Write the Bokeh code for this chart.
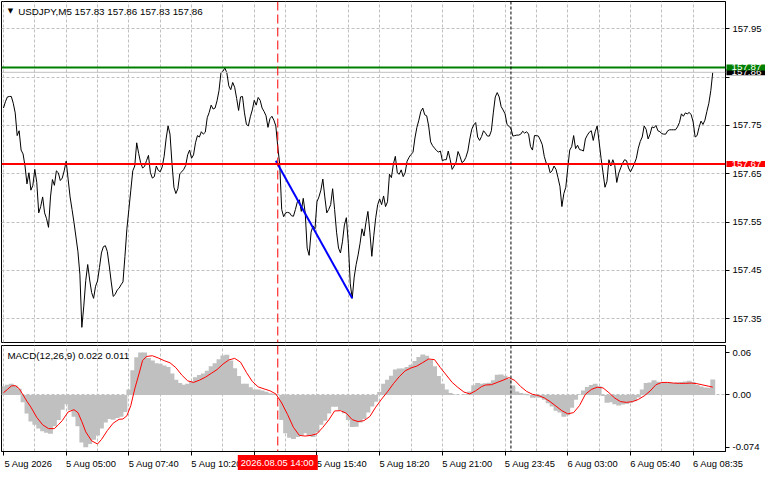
from bokeh.plotting import figure
from bokeh.layouts import column
from bokeh.models import Range1d, FixedTicker, Span, Label, LinearAxis
from bokeh.embed import file_html
from bokeh.resources import INLINE

# ---------------- data ----------------
symbol = "USDJPY,M5"
ohlc = [157.83, 157.86, 157.83, 157.86]

close = [
    157.786, 157.799, 157.809, 157.810, 157.810, 157.796, 157.776, 157.729, 157.739, 157.699,
    157.691, 157.666, 157.629, 157.652, 157.616, 157.626, 157.659, 157.632, 157.569, 157.582,
    157.602, 157.569, 157.557, 157.539, 157.602, 157.638, 157.626, 157.656, 157.652, 157.636,
    157.641, 157.656, 157.676, 157.639, 157.602, 157.576, 157.549, 157.519, 157.489, 157.442,
    157.332, 157.376, 157.429, 157.462, 157.430, 157.404, 157.392, 157.417, 157.428, 157.456,
    157.486, 157.499, 157.501, 157.489, 157.459, 157.426, 157.396, 157.400, 157.409, 157.413,
    157.420, 157.426, 157.479, 157.536, 157.576, 157.616, 157.656, 157.666, 157.714, 157.692,
    157.673, 157.662, 157.665, 157.677, 157.688, 157.652, 157.641, 157.644, 157.666, 157.657,
    157.654, 157.664, 157.686, 157.722, 157.749, 157.732, 157.672, 157.622, 157.609, 157.619,
    157.650, 157.654, 157.659, 157.667, 157.689, 157.699, 157.682, 157.689, 157.714, 157.729,
    157.726, 157.737, 157.732, 157.736, 157.766, 157.777, 157.792, 157.784, 157.786, 157.801,
    157.822, 157.859, 157.862, 157.869, 157.859, 157.832, 157.824, 157.839, 157.829, 157.806,
    157.781, 157.809, 157.810, 157.776, 157.752, 157.749, 157.768, 157.782, 157.802, 157.792,
    157.808, 157.802, 157.786, 157.779, 157.770, 157.746, 157.764, 157.769, 157.761, 157.749,
    157.706, 157.669, 157.576, 157.561, 157.569, 157.570, 157.569, 157.563, 157.562, 157.576,
    157.592, 157.596, 157.572, 157.599, 157.569, 157.496, 157.481, 157.529, 157.542, 157.536,
    157.592, 157.602, 157.616, 157.639, 157.602, 157.569, 157.576, 157.586, 157.619, 157.576,
    157.529, 157.496, 157.486, 157.509, 157.544, 157.559, 157.506, 157.422, 157.392, 157.436,
    157.462, 157.482, 157.506, 157.536, 157.521, 157.549, 157.572, 157.529, 157.479, 157.522,
    157.559, 157.586, 157.598, 157.586, 157.604, 157.582, 157.592, 157.649, 157.642, 157.670,
    157.686, 157.652, 157.649, 157.658, 157.644, 157.652, 157.676, 157.684, 157.690, 157.694,
    157.724, 157.746, 157.761, 157.779, 157.786, 157.772, 157.770, 157.749, 157.716, 157.708,
    157.703, 157.698, 157.695, 157.697, 157.677, 157.679, 157.679, 157.697, 157.679, 157.659,
    157.666, 157.674, 157.696, 157.686, 157.673, 157.676, 157.684, 157.697, 157.722, 157.742,
    157.751, 157.756, 157.726, 157.719, 157.727, 157.739, 157.734, 157.728, 157.728, 157.739,
    157.776, 157.809, 157.818, 157.809, 157.789, 157.782, 157.774, 157.752, 157.748, 157.744,
    157.728, 157.729, 157.730, 157.730, 157.732, 157.738, 157.734, 157.737, 157.732, 157.706,
    157.699, 157.729, 157.729, 157.728, 157.720, 157.710, 157.686, 157.672, 157.669, 157.652,
    157.656, 157.666, 157.659, 157.642, 157.624, 157.582, 157.609, 157.622, 157.662, 157.699,
    157.706, 157.729, 157.702, 157.709, 157.700, 157.699, 157.697, 157.722, 157.730, 157.736,
    157.739, 157.719, 157.737, 157.749, 157.716, 157.682, 157.652, 157.622, 157.634, 157.679,
    157.666, 157.679, 157.667, 157.632, 157.651, 157.662, 157.672, 157.679, 157.677, 157.662,
    157.654, 157.662, 157.671, 157.682, 157.703, 157.717, 157.726, 157.749, 157.742, 157.722,
    157.732, 157.747, 157.745, 157.750, 157.739, 157.737, 157.733, 157.732, 157.732, 157.739,
    157.741, 157.741, 157.741, 157.741, 157.747, 157.756, 157.774, 157.769, 157.776, 157.774,
    157.777, 157.772, 157.757, 157.726, 157.729, 157.746, 157.759, 157.752, 157.761, 157.779,
    157.796, 157.822, 157.860,
]
bars = list(range(len(close)))

macd_name = "MACD(12,26,9)"
macd_last = 0.022
signal_last = 0.011

hist_bars = list(range(0, 363, 2))
macd_hist = [
    0.0123, 0.0145, 0.0159, 0.0132, 0.0086, -0.0105, -0.0264, -0.0377, -0.0423, -0.0477,
    -0.0514, -0.0536, -0.0550, -0.0445, -0.0355, -0.0209, -0.0132, -0.0218, -0.0309, -0.0445,
    -0.0673, -0.0741, -0.0695, -0.0636, -0.0573, -0.0477, -0.0391, -0.0341, -0.0350, -0.0327,
    -0.0309, -0.0241, 0.0077, 0.0350, 0.0532, 0.0600, 0.0600, 0.0523, 0.0486, 0.0450,
    0.0441, 0.0418, 0.0395, 0.0305, 0.0214, 0.0168, 0.0145, 0.0159, 0.0195, 0.0250,
    0.0282, 0.0305, 0.0341, 0.0405, 0.0450, 0.0505, 0.0559, 0.0568, 0.0486, 0.0377,
    0.0268, 0.0159, 0.0159, 0.0109, 0.0077, 0.0077, 0.0064, 0.0045, 0.0023, 0.0018,
    -0.0005, -0.0355, -0.0541, -0.0605, -0.0623, -0.0595, -0.0568, -0.0541, -0.0582, -0.0595,
    -0.0532, -0.0423, -0.0364, -0.0264, -0.0168, -0.0168, -0.0218, -0.0259, -0.0355, -0.0455,
    -0.0450, -0.0391, -0.0341, -0.0250, -0.0164, -0.0095, 0.0041, 0.0159, 0.0214, 0.0273,
    0.0359, 0.0373, 0.0373, 0.0395, 0.0427, 0.0482, 0.0536, 0.0573, 0.0555, 0.0495,
    0.0405, 0.0268, 0.0159, 0.0077, 0.0027, 0.0005, 0.0000, 0.0000, 0.0009, 0.0050,
    0.0136, 0.0168, 0.0159, 0.0164, 0.0173, 0.0209, 0.0286, 0.0291, 0.0273, 0.0227,
    0.0132, 0.0050, 0.0027, 0.0018, -0.0005, -0.0041, -0.0036, -0.0041, -0.0068, -0.0118,
    -0.0164, -0.0223, -0.0250, -0.0309, -0.0286, -0.0182, -0.0068, 0.0005, 0.0064, 0.0114,
    0.0141, 0.0159, 0.0123, -0.0014, -0.0109, -0.0105, -0.0132, -0.0150, -0.0136, -0.0127,
    -0.0109, -0.0091, -0.0036, 0.0077, 0.0168, 0.0177, 0.0209, 0.0186, 0.0173, 0.0168,
    0.0168, 0.0168, 0.0177, 0.0182, 0.0191, 0.0200, 0.0182, 0.0141, 0.0118, 0.0105,
    0.0100, 0.0220,
]

sig_bars = [
    0, 2, 4, 6, 8, 10, 12, 14, 17, 20,
    23, 26, 28, 30, 33, 36, 38, 40, 42, 45,
    48, 50, 53, 56, 59, 61, 63, 65, 67, 69,
    71, 73, 76, 79, 82, 85, 88, 91, 94, 97,
    100, 103, 106, 109, 112, 115, 118, 121, 124, 127,
    130, 133, 136, 139, 142, 145, 148, 151, 154, 157,
    160, 163, 166, 169, 172, 175, 178, 181, 184, 187,
    190, 193, 196, 199, 202, 205, 208, 211, 214, 217,
    220, 223, 226, 229, 232, 235, 238, 241, 244, 246,
    249, 252, 255, 258, 261, 264, 267, 270, 273, 276,
    279, 282, 285, 288, 291, 294, 297, 300, 303, 306,
    309, 312, 315, 318, 321, 324, 327, 330, 333, 336,
    339, 342, 345, 348, 351, 354, 357, 360, 362,
]
macd_signal = [
    0.0032, 0.0077, 0.0127, 0.0132, 0.0091, 0.0000, -0.0091, -0.0173, -0.0318, -0.0423,
    -0.0477, -0.0477, -0.0423, -0.0364, -0.0241, -0.0209, -0.0250, -0.0377, -0.0523, -0.0650,
    -0.0695, -0.0632, -0.0505, -0.0400, -0.0345, -0.0341, -0.0295, -0.0150, 0.0086, 0.0282,
    0.0486, 0.0545, 0.0555, 0.0523, 0.0486, 0.0455, 0.0386, 0.0282, 0.0200, 0.0177,
    0.0209, 0.0250, 0.0305, 0.0359, 0.0436, 0.0495, 0.0518, 0.0464, 0.0318, 0.0191,
    0.0114, 0.0086, 0.0059, 0.0014, -0.0114, -0.0277, -0.0459, -0.0573, -0.0582, -0.0573,
    -0.0550, -0.0459, -0.0355, -0.0227, -0.0223, -0.0259, -0.0350, -0.0377, -0.0364, -0.0305,
    -0.0173, -0.0059, 0.0045, 0.0159, 0.0259, 0.0341, 0.0382, 0.0409, 0.0459, 0.0509,
    0.0500, 0.0386, 0.0282, 0.0177, 0.0105, 0.0041, 0.0014, 0.0059, 0.0118, 0.0141,
    0.0145, 0.0177, 0.0209, 0.0245, 0.0205, 0.0118, 0.0050, 0.0009, -0.0009, -0.0041,
    -0.0095, -0.0159, -0.0223, -0.0268, -0.0250, -0.0150, 0.0009, 0.0077, 0.0109, 0.0100,
    0.0032, -0.0045, -0.0095, -0.0105, -0.0095, -0.0064, -0.0014, 0.0055, 0.0145, 0.0177,
    0.0177, 0.0168, 0.0164, 0.0164, 0.0168, 0.0159, 0.0141, 0.0123, 0.0110,
]

resistance = 157.87
support = 157.67
bid = 157.86
trend_bars = [139, 178]
trend_prices = [157.677, 157.392]
cursor_bar = 140
cursor_label = "2026.08.05 14:00"
separator_bar = 259

time_tick_bars = [0, 32, 64, 96, 128, 160, 192, 224, 256, 288, 320, 352]
time_label_bars = [0, 32, 64, 96, 160, 192, 224, 256, 288, 320, 352]
time_labels = ["5 Aug 2026", "5 Aug 05:00", "5 Aug 07:40", "5 Aug 10:20",
               "5 Aug 15:40", "5 Aug 18:20", "5 Aug 21:00", "5 Aug 23:45",
               "6 Aug 03:00", "6 Aug 05:40", "6 Aug 08:35"]
grid_bars = list(range(0, 361, 16))
price_grid = [157.35, 157.45, 157.55, 157.65, 157.75, 157.85, 157.95]
price_label_ticks = [157.35, 157.45, 157.55, 157.65, 157.75, 157.95]
macd_ticks = [-0.074, 0.0, 0.06]
macd_tick_labels = ["-0.074", "0.00", "0.06"]

# ---------------- style ----------------
FONT = "Liberation Sans"
FS = "9.5px"
FS_BOX = "9.8px"
FS_TIME = "9.4px"
GRID = "#C0C0C0"
W = 765
TOP1 = 60      # p1 top side panel (holds the price boxes), pushed above the page
TOP2 = 24      # p2 top side panel (holds the time box), transparent and overlapping p1
LABEL_SHIFT = 12.8   # bars: centre of a time label half a label-width right of its tick


def pad_kw(h, v):
    if "padding" not in Label.properties():
        return {}
    for pad in (dict(left=h, right=h + 1, top=v, bottom=v), (h, v), 2):
        try:
            Label(padding=pad)
            return {"padding": pad}
        except Exception:
            continue
    return {}


PAD_PRICE = pad_kw(5, 0)
PAD_TIME = pad_kw(3, 2)

x_range = Range1d(-1, 368.5)


def style_axis(ax, size=FS):
    ax.axis_line_color = "black"
    ax.major_tick_line_color = "black"
    ax.major_tick_out = 4
    ax.major_tick_in = 0
    ax.minor_tick_line_color = "black"
    ax.minor_tick_out = 4
    ax.minor_tick_in = 0
    ax.major_label_text_font = FONT
    ax.major_label_text_font_size = size
    ax.major_label_text_color = "black"
    ax.major_label_standoff = 3


def box(text, x, y, bg, size, pad, **kw):
    return Label(x=x, y=y, text=text, text_font=FONT, text_font_size=size,
                 text_color="white", text_baseline="middle",
                 background_fill_color=bg, **pad, **kw)


# ---------------- main price panel ----------------
p1 = figure(width=W, height=TOP1 + 341 + 1, x_range=x_range,
            y_range=Range1d(157.3006, 158.0066),
            output_backend="svg", toolbar_location=None,
            x_axis_location=None, y_axis_location="right",
            min_border_left=1, min_border_right=40,
            min_border_top=TOP1, min_border_bottom=1,
            background_fill_color="white", border_fill_color=None)
p1.margin = (-(TOP1 - 1), 0, 0, 0)
p1.outline_line_color = "black"
p1.xgrid.ticker = FixedTicker(ticks=grid_bars)
p1.xgrid.grid_line_color = GRID
p1.xgrid.grid_line_dash = "3 2"
p1.ygrid.ticker = FixedTicker(ticks=price_grid)
p1.ygrid.grid_line_color = GRID
p1.ygrid.grid_line_dash = "3 2"
p1.yaxis.ticker = FixedTicker(ticks=price_label_ticks,
                              minor_ticks=[t for t in price_grid if t not in price_label_ticks])
for ax in p1.yaxis:
    style_axis(ax)

p1.add_layout(Span(location=bid, dimension="width", line_color="#C0C0C0", line_width=1))
p1.add_layout(Span(location=resistance, dimension="width", line_color="#008000", line_width=2))
p1.add_layout(Span(location=support, dimension="width", line_color="#FF0000", line_width=2))
p1.add_layout(Span(location=cursor_bar, dimension="height", line_color="#FF0000",
                   line_width=1, line_dash="9 4"))
p1.add_layout(Span(location=separator_bar, dimension="height", line_color="black",
                   line_width=1, line_dash="3 2"))

p1.line(bars, close, line_color="black", line_width=1)
p1.line(trend_bars, trend_prices, line_color="#0000FF", line_width=2)

# price boxes: side-panel annotations are not clipped; positioned on the data scales
p1.add_layout(box(f"{bid:.2f}", 369.0, bid, "black", FS_BOX, PAD_PRICE,
                  text_align="left"), "above")
p1.add_layout(box(f"{resistance:.2f}", 369.0, resistance, "#008000", FS_BOX, PAD_PRICE,
                  text_align="left"), "above")
p1.add_layout(box(f"{support:.2f}", 369.0, support, "#FF0000", FS_BOX, PAD_PRICE,
                  text_align="left"), "above")

p1.add_layout(Label(x=3.5, y=157.9866, text="\u25BC", text_font="DejaVu Sans",
                    text_font_size="7px", text_color="black", text_align="center",
                    text_baseline="middle"))
p1.add_layout(Label(x=7.5, y=157.9866,
                    text=symbol + "  " + " ".join(f"{v:.2f}" for v in ohlc),
                    text_font=FONT, text_font_size="9.8px", text_color="black",
                    text_align="left", text_baseline="middle"))

# ---------------- MACD panel ----------------
p2 = figure(width=W, height=TOP2 + 106 + 22, x_range=x_range, y_range=Range1d(-0.0801, 0.070),
            output_backend="svg", toolbar_location=None,
            x_axis_location=None, y_axis_location="right",
            min_border_left=1, min_border_right=40,
            min_border_top=TOP2, min_border_bottom=22,
            background_fill_color="white", border_fill_color=None)
p2.margin = (-(TOP2 - 2), 0, 0, 0)
p2.outline_line_color = "black"
p2.xgrid.ticker = FixedTicker(ticks=grid_bars)
p2.xgrid.grid_line_color = GRID
p2.xgrid.grid_line_dash = "3 2"
p2.ygrid.ticker = FixedTicker(ticks=[0])
p2.ygrid.grid_line_color = GRID
p2.ygrid.grid_line_dash = "3 2"

p2.yaxis.ticker = FixedTicker(ticks=macd_ticks)
p2.yaxis.major_label_overrides = dict(zip(macd_ticks, macd_tick_labels))
for ax in p2.yaxis:
    style_axis(ax)

# time axis: minor ticks mark the bars, labels start at each tick
label_pos = [b + LABEL_SHIFT for b in time_label_bars]
time_axis = LinearAxis(ticker=FixedTicker(ticks=label_pos, minor_ticks=time_tick_bars),
                       major_label_overrides=dict(zip(label_pos, time_labels)))
style_axis(time_axis, FS_TIME)
time_axis.major_tick_line_color = None
time_axis.major_tick_out = 0
time_axis.major_label_standoff = 2
p2.add_layout(time_axis, "below")

p2.vbar(x=hist_bars, top=macd_hist, bottom=0, width=2.5, fill_color="#C0C0C0",
        line_color=None)
p2.line(sig_bars, macd_signal, line_color="#FF0000", line_width=1)

p2.add_layout(Span(location=cursor_bar, dimension="height", line_color="#FF0000",
                   line_width=1, line_dash="9 4"))
p2.add_layout(Span(location=separator_bar, dimension="height", line_color="black",
                   line_width=1, line_dash="3 2"))

p2.add_layout(Label(x=2, y=0.0563,
                    text=f"{macd_name} {macd_last:.3f} {signal_last:.3f}",
                    text_font=FONT, text_font_size="9.8px", text_color="black",
                    text_align="left", text_baseline="middle"))
p2.add_layout(box(cursor_label, cursor_bar, -0.0955, "#FF0000", FS_TIME, PAD_TIME,
                  text_align="center"), "above")

layout = column(p1, p2, spacing=0)
open("out.html", "w").write(file_html(layout, INLINE))
